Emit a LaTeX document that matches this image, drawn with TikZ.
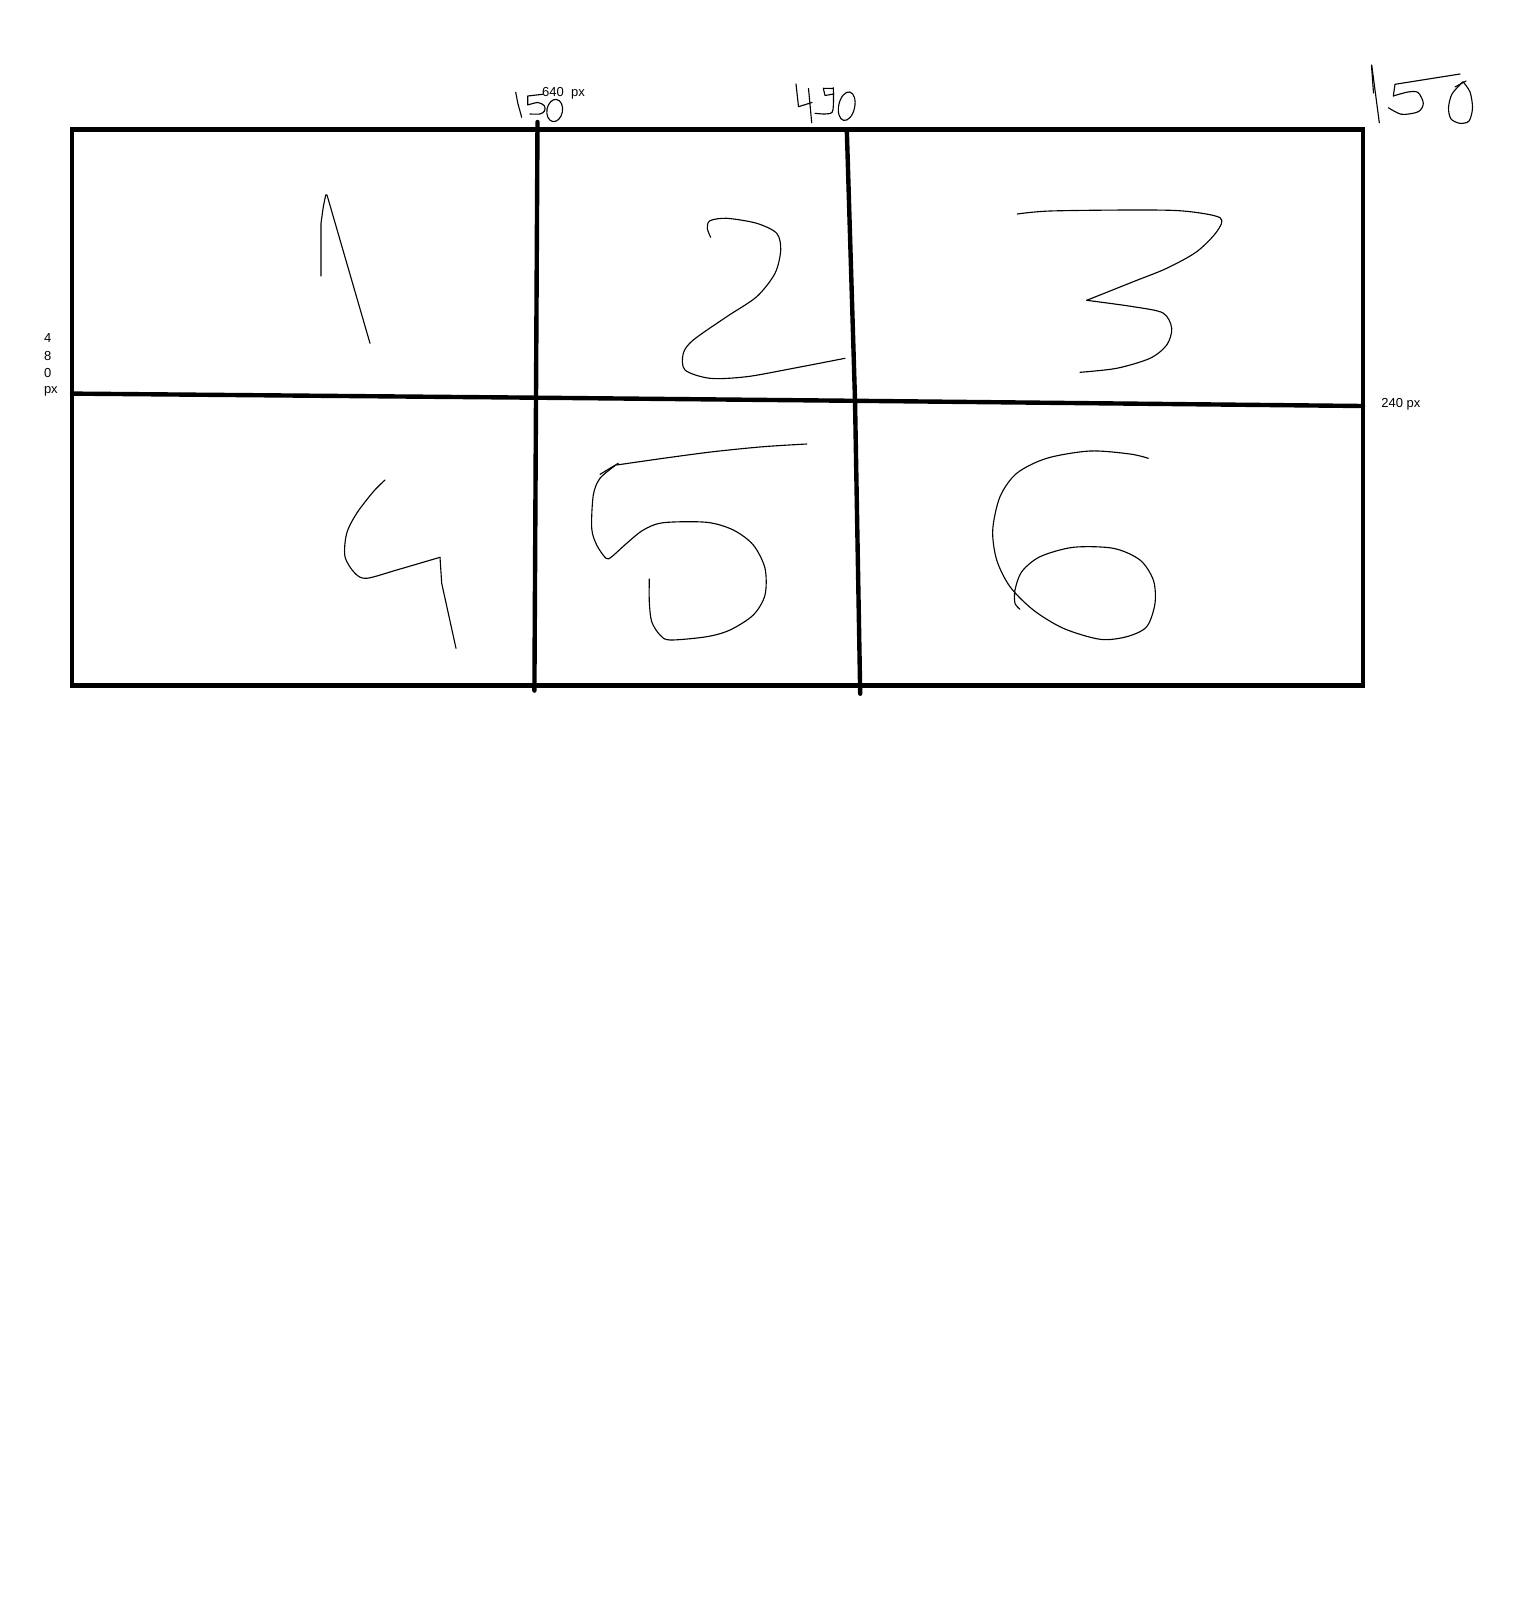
\documentclass[tikz,border=0pt]{standalone}
\usepackage{fontspec}
\setmainfont{Liberation Sans}
\begin{document}
\begin{tikzpicture}[x=0.01cm,y=-0.01cm,
  frame/.style={line width=1.25pt, line cap=round, line join=miter},
  pen/.style={line width=0.32pt, line join=round, line cap=round},
  lbl/.style={font=\fontsize{3.7}{4.4}\selectfont, inner sep=0pt, anchor=west}]
\useasboundingbox (0,0) rectangle (1520,1612);
\fill[white] (0,0) rectangle (1520,1612);

% outer frame and dividers
\draw[frame, line cap=butt] (72,129.5) rectangle (1363,685.5);
\draw[frame] (537.5,122) -- (534.4,690.6);
\draw[frame] (846.8,129.5) -- (855,400) -- (860.2,693.7);
\draw[frame] (72,393.6) -- (537,397.7) -- (855,400.8) -- (1363,406);

% labels
\node[lbl] (w640) at (541.5,93.5) {640\ \ px};
\node[lbl] (h4) at (43.3,337.7) {4};
\node[lbl] (h8) at (43.3,355.7) {8};
\node[lbl] (h0) at (43.3,373.3) {0};
\node[lbl] (hpx) at (43.3,391.5) {px};
\node[lbl] (w240) at (1380.7,404.5) {240 px};

% handwritten "150" near first divider
\draw[pen] (515.7,92.3) -- (518,104) -- (521.7,117.3);
\draw[pen] (542.7,94.3) -- (527.7,96) -- (527.7,105)
  plot[smooth] coordinates {(527.7,105) (538,102.5) (544.5,106) (544.5,111) (540,114) (530,114)};
\draw[pen, rotate around={-10:(554.7,110.5)}] (554.7,110.5) ellipse (7.8 and 11.2);

% handwritten "490" near second divider
\draw[pen] (796,84) -- (798.5,106.7) -- (812,102.5);
\draw[pen] (808.5,88.5) -- (811.7,122.7);
\draw[pen] (833.3,88.5) -- (823.3,88.3) -- (825,95.5) -- (833.8,94);
\draw[pen] plot[smooth] coordinates {(833.3,87.7) (833.5,100) (832.3,112) (825,114) (815,113.3)};
\draw[pen, rotate around={-12:(846.7,106.2)}] (846.7,106.2) ellipse (8 and 14.5);

% handwritten "150" top right
\draw[pen] (1371.7,65) -- (1379.3,122.7);
\draw[pen] (1371.5,66) -- (1373.5,93);
\draw[pen] (1460,74) -- (1395,84.3) -- (1393.3,96);
\draw[pen] plot[smooth] coordinates {(1393.3,96) (1408,92) (1418,92.5) (1423.3,103.3) (1418.3,111.7) (1401.7,114.3) (1388.3,107.7)};
\draw[pen] plot[smooth] coordinates {(1463,81.7) (1452,94) (1448.5,108) (1451,119) (1460,123.3) (1469,121) (1472.5,108) (1470,92) (1463,81.7)};
\draw[pen] (1455,87) -- (1466,81);

% 1
\draw[pen] (321,276) -- (321,223.3) -- (323.3,206.7) -- (325.7,195) -- (327,195) -- (370,343.3);

% 2
\draw[pen] plot[smooth] coordinates {(710.7,237.3) (707.3,228.3) (710,220.7) (726.7,218.3) (756.7,223.3) (776.7,233.3) (780.7,250) (775,273.3) (756.7,296.7) (726.7,316.7) (693.3,340) (683.3,353.3) (685,370) (710,378.3) (746.7,376.7) (793.3,368.3) (845,358.3)};

% 3
\draw[pen] plot[smooth] coordinates {(1017.3,214) (1050,211) (1133.3,210) (1183.3,211) (1220,217.7) (1216.7,231.7) (1196.7,251.7) (1166.7,268.3) (1133.3,281.7) (1086.7,300.3)};
\draw[pen] plot[smooth] coordinates {(1086.7,300.3) (1133.3,306.7) (1163,313) (1171.7,328.3) (1166.7,345) (1150,358.3) (1116.7,368.3) (1080,372.3)};

% 4
\draw[pen] plot[smooth] coordinates {(385,480) (373.3,491.7) (356.7,513.3) (346.7,533.3) (345,556.7) (355,573.3) (366.7,578.3) (396.7,570) (440,557.3)};
\draw[pen] (440,557.3) -- (441.7,583.3) -- (456,648.3);

% 5
\draw[pen] plot[smooth] coordinates {(806.7,444) (763.3,446.7) (713.3,451.7) (663.3,458.3) (616.7,465)};
\draw[pen] (600,474.3) -- (618.3,463.3);
\draw[pen] plot[smooth] coordinates {(615,465.7) (600,478.3) (593.3,495) (591.7,528.3) (596.7,545) (606,558.3) (611.7,556.7) (626.7,543.3) (643.3,530) (663.3,522.7) (706.7,522.3) (733.3,530) (753.3,545) (765,568.3) (765,595) (753.3,615) (730,630) (706.7,636.7) (670,640) (660,635) (651.7,621.7) (649.3,601.7) (649.3,579)};

% 6
\draw[pen] plot[smooth] coordinates {(1148.3,458.3) (1130,454) (1090,451) (1046.7,458.3) (1016.7,473.3) (1000,496.7) (992.7,530) (996.7,560) (1010,586.7) (1033.3,610) (1063.3,628.3) (1100,639.3) (1126.7,636.7) (1146.7,626.7) (1155,603.3) (1153.3,580) (1140,560) (1113.3,548.3) (1073.3,547.3) (1040,556.7) (1021.7,571.7) (1015,590) (1015,603.3) (1020,609.3)};
\end{tikzpicture}
\end{document}
